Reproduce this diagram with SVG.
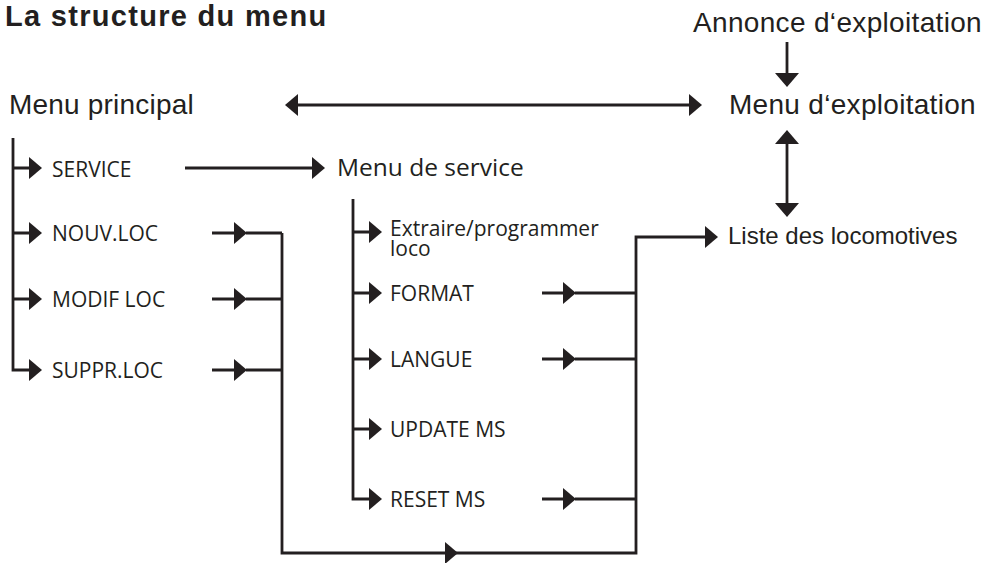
<svg xmlns="http://www.w3.org/2000/svg" xmlns:xlink="http://www.w3.org/1999/xlink" width="995" height="563" viewBox="0 0 995 563">
<style>
.ln{fill:none;stroke:#231f20;stroke-width:2.8;stroke-linejoin:miter;stroke-linecap:butt}
.ah{fill:#231f20}
.h{font-family:"Liberation Sans",Arial,sans-serif;fill:#231f20}
.m{font-family:"Open Sans","Liberation Sans",sans-serif;fill:#231f20}
</style>
<defs>
<polygon id="ar" points="0,-11 13,0 0,11"/>
<polygon id="al" points="0,-11 -13,0 0,11"/>
<polygon id="ad" points="-12,0 12,0 0,14"/>
<polygon id="au" points="-12,0 12,0 0,-14"/>
</defs>
<rect width="995" height="563" fill="#fff"/>
<text class="h" x="5" y="26" font-size="29" font-weight="bold" letter-spacing="1.3">La structure du menu</text>

<g id="annonce"><text class="h" x="693" y="32" font-size="28" letter-spacing="0.33">Annonce d‘exploitation</text></g>
<g id="menu-exploitation"><text class="h" x="729" y="114" font-size="28" letter-spacing="0.3">Menu d‘exploitation</text></g>
<g id="menu-principal"><text class="h" x="9" y="114" font-size="28" letter-spacing="0.2">Menu principal</text></g>
<g id="liste"><text class="h" x="728" y="244" font-size="24">Liste des locomotives</text></g>
<g id="service"><text class="m" x="52" y="177" font-size="21">SERVICE</text></g>
<g id="nouv"><text class="m" x="52" y="241" font-size="21">NOUV.LOC</text></g>
<g id="modif"><text class="m" x="52" y="307" font-size="21">MODIF LOC</text></g>
<g id="suppr"><text class="m" x="52" y="378" font-size="21">SUPPR.LOC</text></g>
<g id="menu-service"><text class="m" x="337" y="176" font-size="24.5">Menu de service</text></g>
<g id="extraire"><text class="m" x="390" y="236" font-size="21">Extraire/programmer</text><text class="m" x="390" y="256" font-size="21">loco</text></g>
<g id="format"><text class="m" x="390" y="301" font-size="21">FORMAT</text></g>
<g id="langue"><text class="m" x="390" y="367" font-size="21">LANGUE</text></g>
<g id="update"><text class="m" x="390" y="437" font-size="21">UPDATE MS</text></g>
<g id="reset"><text class="m" x="390" y="507" font-size="21">RESET MS</text></g>

<g id="connectors">
<path class="ln" d="M297,105 H690"/>
<use href="#al" class="ah" x="298" y="105"/>
<use href="#ar" class="ah" x="689" y="105"/>
<path class="ln" d="M787,42 V74"/>
<use href="#ad" class="ah" x="787" y="73"/>
<path class="ln" d="M787,143 V204"/>
<use href="#au" class="ah" x="787" y="144"/>
<use href="#ad" class="ah" x="787" y="203"/>

<path class="ln" d="M13,138 V370 H30 M13,168 H30 M13,233 H30 M13,299 H30"/>
<use href="#ar" class="ah" x="29" y="168"/>
<use href="#ar" class="ah" x="29" y="233"/>
<use href="#ar" class="ah" x="29" y="299"/>
<use href="#ar" class="ah" x="29" y="370"/>

<path class="ln" d="M185,168 H313"/>
<use href="#ar" class="ah" x="312" y="168"/>

<path class="ln" d="M212,233 H235 M246,233 H282 M212,299 H235 M246,299 H282 M212,370 H235 M246,370 H282"/>
<use href="#ar" class="ah" x="234" y="233"/>
<use href="#ar" class="ah" x="234" y="299"/>
<use href="#ar" class="ah" x="234" y="370"/>
<path class="ln" d="M282,233 V553 H636 V237 H706"/>
<use href="#ar" class="ah" x="445" y="553"/>
<use href="#ar" class="ah" x="705" y="237"/>

<path class="ln" d="M353,199 V499 H370 M353,232 H370 M353,293 H370 M353,359 H370 M353,429 H370"/>
<use href="#ar" class="ah" x="369" y="232"/>
<use href="#ar" class="ah" x="369" y="293"/>
<use href="#ar" class="ah" x="369" y="359"/>
<use href="#ar" class="ah" x="369" y="429"/>
<use href="#ar" class="ah" x="369" y="499"/>

<path class="ln" d="M542,293 H564 M575,293 H636 M542,359 H564 M575,359 H636 M542,499 H564 M575,499 H636"/>
<use href="#ar" class="ah" x="563" y="293"/>
<use href="#ar" class="ah" x="563" y="359"/>
<use href="#ar" class="ah" x="563" y="499"/>
</g>
</svg>
